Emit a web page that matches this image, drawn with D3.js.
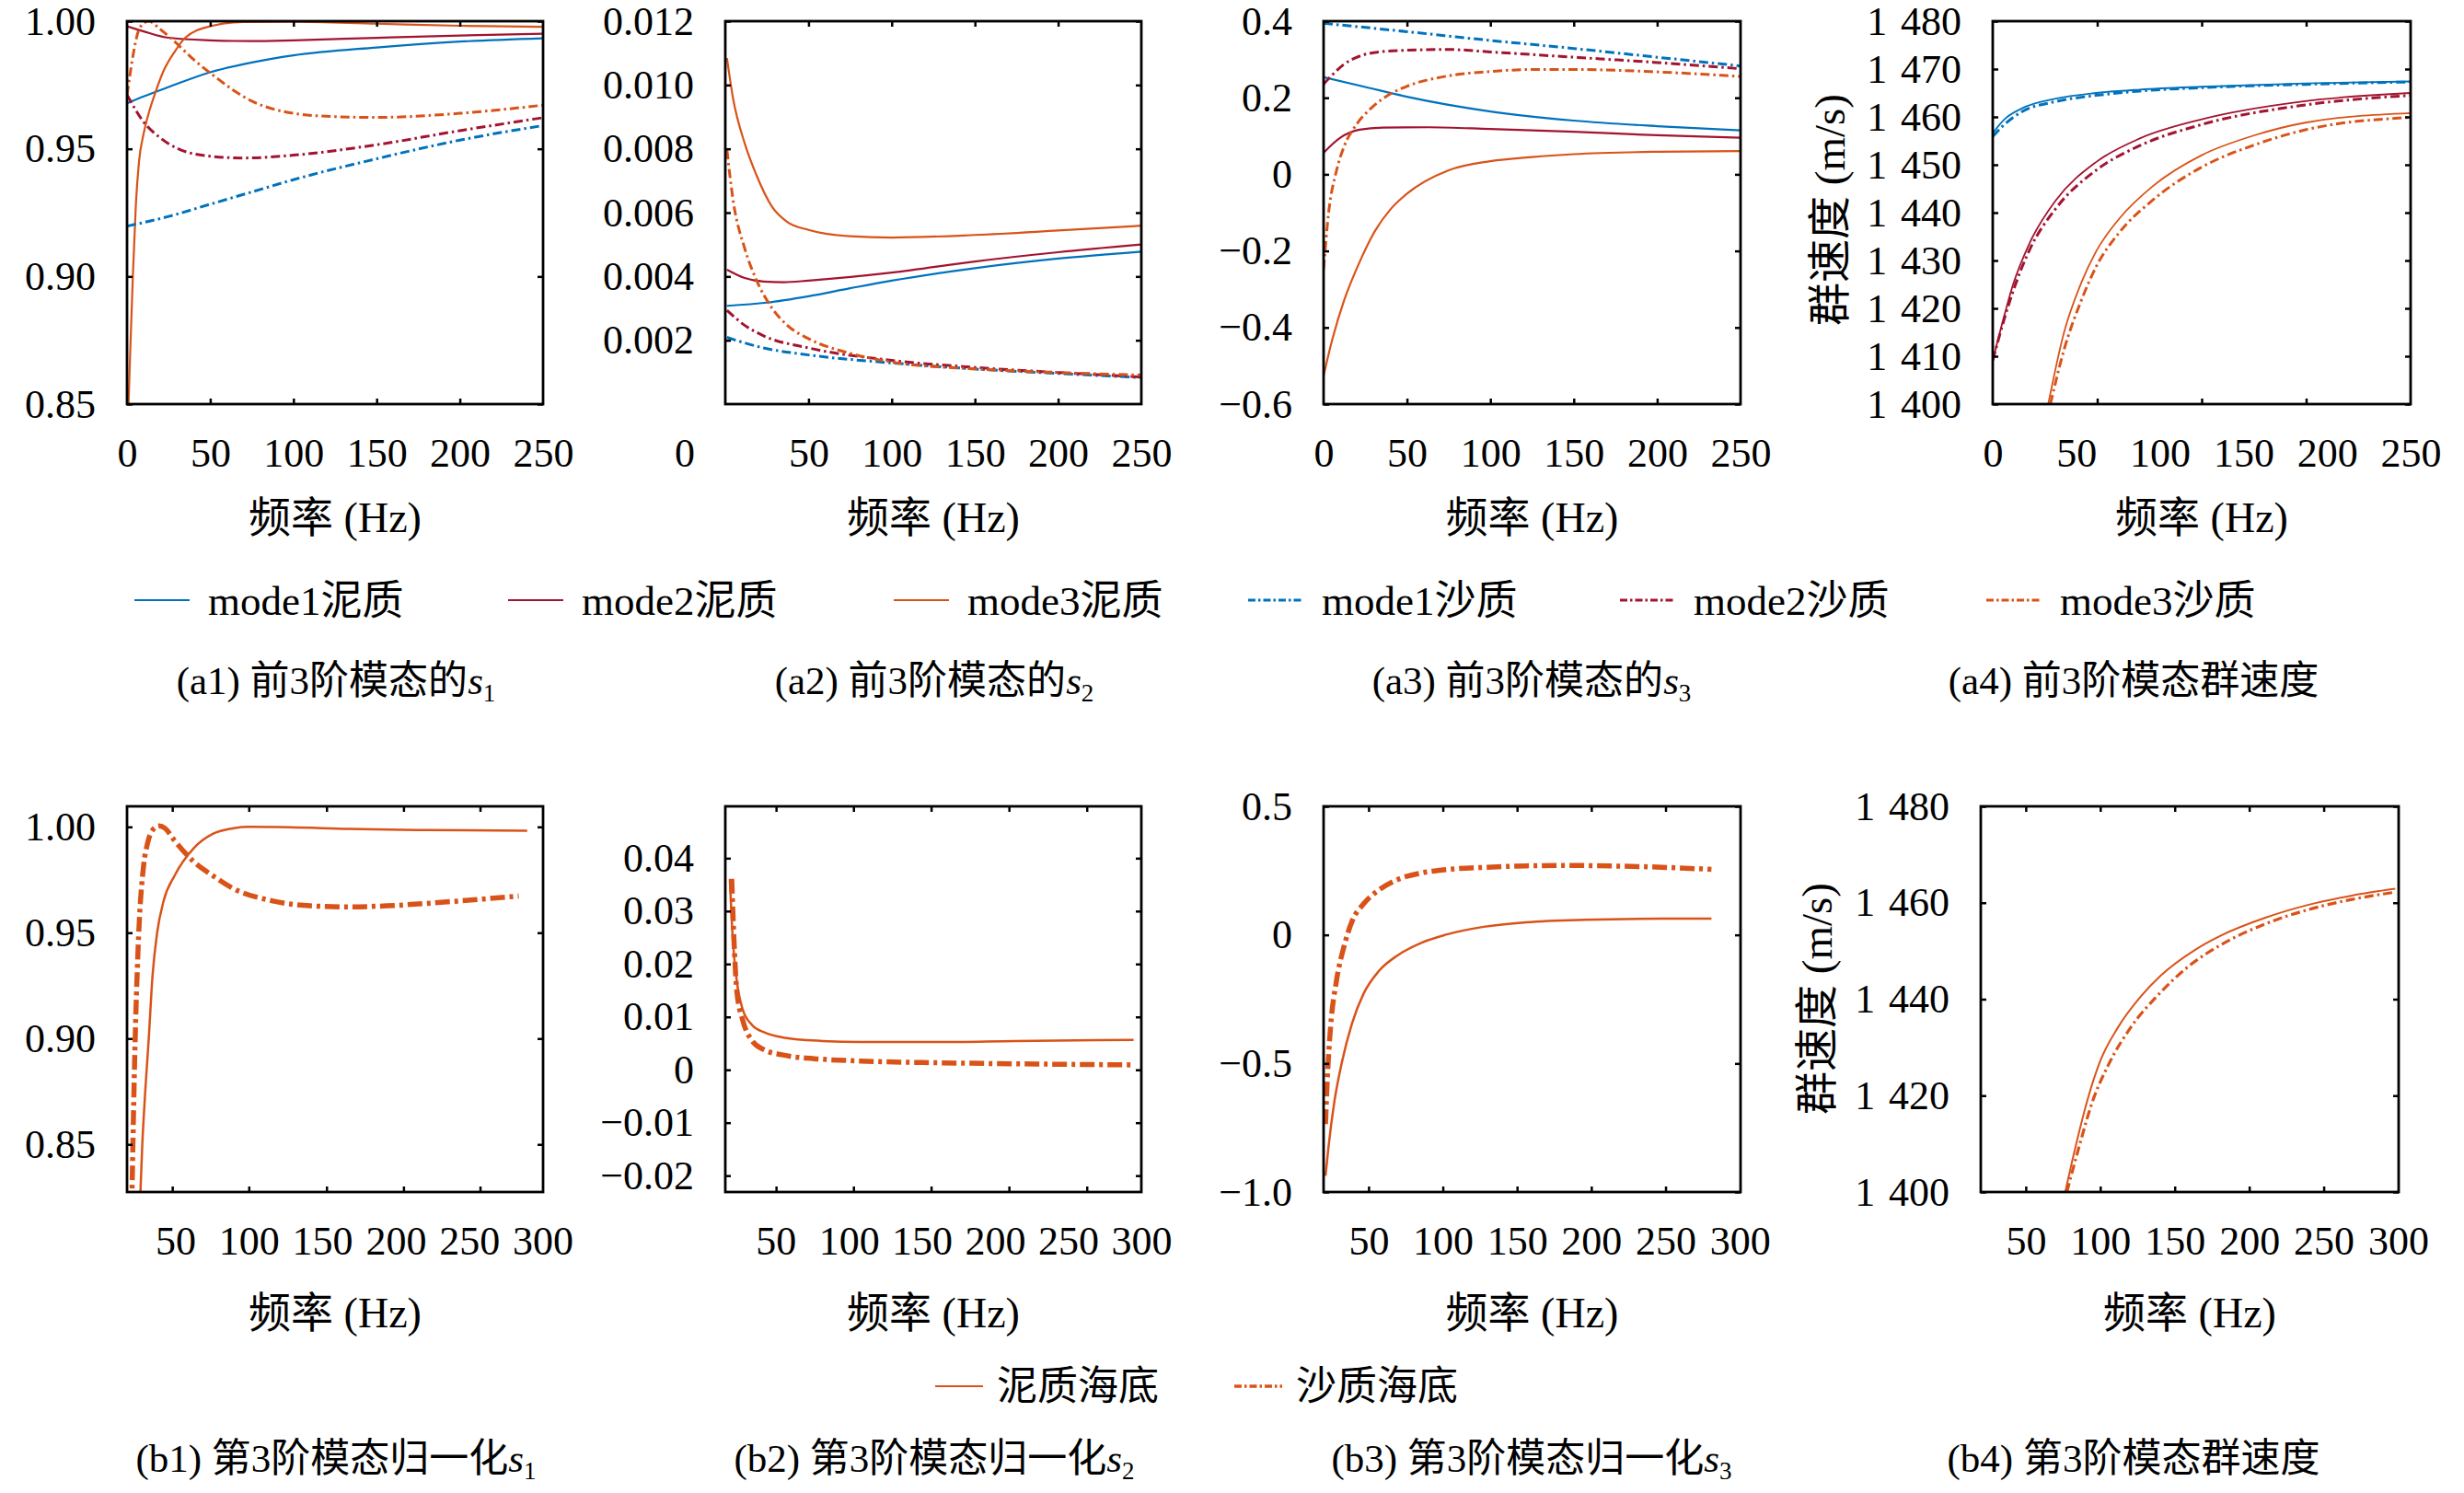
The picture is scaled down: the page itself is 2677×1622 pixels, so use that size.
<!DOCTYPE html>
<html><head><meta charset="utf-8">
<script src="https://cdn.jsdelivr.net/npm/d3@7"></script>
<style>
html,body{margin:0;padding:0;background:#fff;}
</style></head><body>
<svg id="c" width="2677" height="1622" xmlns="http://www.w3.org/2000/svg"></svg>
<script>
// ---------- colours ----------
const BLUE = '#0072BD', RED = '#A2142F', ORANGE = '#D95319';
const FONT = "'Liberation Serif','Noto Sans CJK SC',serif";

// ---------- tick labels ----------
const topXTicks = [0, 50, 100, 150, 200, 250];
const a2XTicks = [50, 100, 150, 200, 250];
const bottomXTicks = [50, 100, 150, 200, 250, 300];
const a1YTicks = [0.85, 0.90, 0.95, 1.00];
const a2YTicks = [0.002, 0.004, 0.006, 0.008, 0.010, 0.012];
const a3YTicks = [-0.6, -0.4, -0.2, 0, 0.2, 0.4];
const a4YTicks = [1400, 1410, 1420, 1430, 1440, 1450, 1460, 1470, 1480];
const b1YTicks = [0.85, 0.90, 0.95, 1.00];
const b2YTicks = [-0.02, -0.01, 0, 0.01, 0.02, 0.03, 0.04];
const b3YTicks = [-1.0, -0.5, 0, 0.5];
const b4YTicks = [1400, 1420, 1440, 1460, 1480];
const a4XMarks = [62.5, 125, 187.5];
const b1XMarks = [47.9, 100, 152.9, 205.3, 257.4];
const b2XMarks = [50.3, 103.2, 156.3, 209.5, 262.7];

// ---------- (a1) s1 ----------
const a1Mode1Mud = [[0,0.9678],[10,0.9705],[25,0.9742],[50,0.980],[75,0.9838],[100,0.9866],[150,0.9897],[200,0.992],[250,0.9933]];
const a1Mode2Mud = [[0,0.998],[10,0.996],[25,0.9935],[50,0.9925],[75,0.9922],[100,0.9925],[150,0.9935],[200,0.9944],[250,0.9951]];
const a1Mode3Mud = [[0.9,0.85],[1.9,0.87],[3.5,0.90],[5.3,0.928],[7.2,0.945],[10,0.956],[13.5,0.965],[17,0.972],[21.6,0.98],[28.6,0.988],[35,0.9935],[50,0.998],[70,0.9997],[100,0.9998],[150,0.999],[200,0.9982],[250,0.9978]];
const a1Mode1Sand = [[0,0.9197],[25,0.9235],[50,0.9283],[75,0.9331],[100,0.9379],[150,0.9461],[200,0.9534],[250,0.9591]];
const a1Mode2Sand = [[0,0.9712],[10,0.9605],[20,0.9543],[30,0.9502],[50,0.9471],[70,0.9464],[100,0.9475],[150,0.9516],[200,0.9571],[250,0.9622]];
const a1Mode3Sand = [[0,0.971],[2,0.980],[4,0.988],[7.7,0.9975],[13,1.000],[20,0.9968],[28.6,0.992],[40,0.985],[50,0.9797],[75,0.9687],[100,0.9639],[125,0.9626],[150,0.9623],[200,0.9639],[250,0.9671]];

// ---------- (a2) s2 ----------
const a2Mode1Mud = [[1,0.00308],[25,0.00318],[50,0.00338],[75,0.00363],[100,0.00387],[150,0.00426],[200,0.00456],[250,0.00478]];
const a2Mode2Mud = [[1,0.00421],[11.6,0.00395],[23,0.00384],[35,0.00382],[50,0.00387],[100,0.00412],[150,0.00447],[200,0.00476],[250,0.0050]];
const a2Mode3Mud = [[1,0.01084],[4.6,0.0096],[11.6,0.00818],[18.6,0.00719],[27.9,0.0062],[37.2,0.00571],[50,0.00546],[75,0.00526],[100,0.00522],[150,0.0053],[200,0.00544],[250,0.00559]];
const a2Mode1Sand = [[1,0.00209],[23,0.00176],[50,0.00154],[100,0.00129],[150,0.0011],[200,0.00096],[250,0.00083]];
const a2Mode2Sand = [[1,0.00294],[11.6,0.00247],[23,0.00214],[50,0.00176],[100,0.00137],[150,0.00115],[200,0.00099],[250,0.00085]];
const a2Mode3Sand = [[1,0.00796],[4.6,0.00642],[11.6,0.00489],[18.6,0.0039],[27.9,0.00302],[37.2,0.00247],[50,0.00205],[75,0.00159],[100,0.00132],[150,0.0011],[200,0.00099],[250,0.00091]];

// ---------- (a3) s3 ----------
const a3Mode1Mud = [[0,0.2537],[25,0.2282],[50,0.2026],[100,0.1642],[150,0.1404],[200,0.1258],[250,0.1148]];
const a3Mode2Mud = [[0,0.0563],[10,0.0956],[21.6,0.1166],[35.5,0.1221],[63,0.123],[100,0.1185],[150,0.1112],[200,0.102],[250,0.0956]];
const a3Mode3Mud = [[0,-0.526],[5.3,-0.43],[12.3,-0.3294],[21.6,-0.2289],[31,-0.1466],[40,-0.0918],[50,-0.0506],[75,0.0106],[100,0.0344],[125,0.0453],[150,0.0527],[200,0.059],[250,0.0609]];
const a3Mode1Sand = [[0,0.3945],[50,0.3726],[100,0.3497],[150,0.3287],[200,0.3059],[250,0.283]];
const a3Mode2Sand = [[0,0.2355],[5.3,0.26],[12.3,0.2876],[21.6,0.3086],[33,0.3196],[50,0.3241],[75,0.326],[100,0.3196],[150,0.3059],[200,0.2921],[250,0.2757]];
const a3Mode3Sand = [[0,-0.2472],[3,-0.1009],[7.7,0.0088],[12.3,0.0728],[19.3,0.1276],[28.6,0.1733],[40,0.2099],[50,0.23],[75,0.2574],[100,0.2684],[125,0.2739],[150,0.2739],[200,0.2675],[250,0.2556]];

// ---------- (a4) group velocity ----------
const a4Mode1Mud = [[0,1456.6],[7,1459.5],[17,1461.7],[37.6,1463.8],[62,1465.0],[88,1465.7],[125,1466.3],[187,1467.0],[250,1467.4]];
const a4Mode1Sand = [[0,1455.9],[7,1458.4],[17,1461],[37.6,1463.2],[62,1464.5],[88,1465.4],[125,1466.1],[187,1466.8],[250,1467.3]];
const a4Mode2Mud = [[0,1409.1],[7,1418.6],[12,1424.8],[22,1433.6],[37.6,1442.5],[62,1450.6],[88,1455.5],[125,1459.5],[187,1463.3],[250,1465.0]];
const a4Mode2Sand = [[0,1409.1],[7,1417.9],[12,1423.4],[22,1432.2],[37.6,1440.8],[62,1448.9],[88,1454.0],[125,1458.4],[187,1462.5],[250,1464.5]];
const a4Mode3Mud = [[33.2,1400],[42.6,1414.9],[52.8,1425.2],[62,1432.0],[75.6,1438.7],[96,1445.6],[125,1452.0],[157,1456.2],[187,1458.8],[250,1460.8]];
const a4Mode3Sand = [[34.5,1400],[42.6,1411.3],[52.8,1421.5],[62,1428.8],[75.6,1435.8],[96,1442.7],[125,1449.5],[157,1454.2],[187,1457.3],[250,1459.9]];

// ---------- (b1)-(b4) mode 3 ----------
const b1Mud = [[25.8,0.82],[27.5,0.85],[29.5,0.875],[31.8,0.899],[34.5,0.93],[37.6,0.95],[42,0.965],[49.5,0.977],[62.6,0.990],[75.8,0.9968],[89,0.9993],[100,1.0],[128,0.9998],[168,0.999],[220.5,0.9985],[289.5,0.9982]];
const b1Sand = [[20.3,0.82],[22.6,0.8985],[25,0.9485],[28.4,0.9818],[31,0.992],[34,0.998],[38.9,1.0005],[43,0.9993],[49.5,0.9935],[62.6,0.9835],[75.8,0.9768],[89,0.971],[115,0.9652],[141.6,0.9627],[168,0.9622],[194,0.9627],[220.5,0.9638],[247,0.9652],[283.7,0.9673]];
const b2Mud = [[18.7,0.036],[20.9,0.024],[23.5,0.0167],[27.5,0.0114],[34.1,0.0084],[42,0.0071],[55.3,0.0061],[81.7,0.00545],[108,0.00525],[161,0.00525],[214,0.00545],[294.7,0.00565]];
const b2Sand = [[20,0.0361],[21.4,0.0254],[23.5,0.0148],[27.5,0.0094],[34,0.00545],[42,0.0038],[55,0.0028],[81.7,0.002],[108,0.00166],[161,0.00133],[214,0.00113],[293,0.00093]];
const b3Mud = [[21,-0.937],[23,-0.825],[27,-0.647],[32,-0.496],[38.8,-0.345],[46.6,-0.229],[57,-0.14],[70,-0.078],[85.8,-0.03],[101.5,0.0],[127.6,0.0315],[156.3,0.0493],[195.5,0.0589],[247.6,0.063],[280.9,0.063]];
const b3Sand = [[21,-0.736],[22.3,-0.55],[24.4,-0.359],[28.3,-0.181],[33.5,-0.044],[38.8,0.052],[46.6,0.1205],[57,0.175],[70,0.2164],[85.8,0.241],[104,0.2548],[130,0.263],[156,0.2685],[182,0.27],[221.5,0.267],[247.6,0.263],[280.9,0.2548]];
const b4Mud = [[76.5,1400],[82.8,1408.6],[91.6,1419.3],[100.3,1427.4],[112,1434.2],[126.5,1440.3],[141,1445.0],[164,1450.3],[181.7,1453.3],[210.8,1456.9],[240,1459.6],[269,1461.5],[298,1462.9]];
const b4Sand = [[77.6,1400],[85.8,1409.4],[94.5,1418.5],[106,1426.7],[120.6,1434.2],[138,1440.6],[158,1446.5],[181.7,1451.4],[210.8,1455.6],[240,1458.6],[269,1460.7],[298,1462.2]];

// ---------- texts ----------
const topLegendLabels = ['mode1泥质','mode2泥质','mode3泥质','mode1沙质','mode2沙质','mode3沙质'];
const bottomLegendLabels = ['泥质海底','沙质海底'];
const xTitle = '频率 (Hz)';
const vTitle = '群速度 (m/s)';

// ---------- formatters ----------
const minus = v => (v < 0 ? '\u2212' : '');
const fmtFixed = n => d => d === 0 ? '0' : minus(d) + Math.abs(d).toFixed(n);
const fmtThousand = d => '1\u2004' + String(d - 1000).padStart(3, '0');

// ---------- panel definitions ----------
const SOLID = null, DD = 'dd';
const topStyle = {solid: 2.2, dd: 3, dash: '10,4,2.5,4'};
const a4Style = {solid: 1.8, dd: 3, dash: '10,4,2.5,4'};
const botStyle = {solid: 2.5, dd: 5.5, dash: '16,5,4,5'};
const b4Style = {solid: 2, dd: 3.2, dash: '10,4,2.5,4'};

const panels = [
  {box:[138,590,23,439], xd:[0,250], yd:[0.85,1.00], yt:a1YTicks, yf:fmtFixed(2), xl:topXTicks, xm:[50,100,150,200], st:topStyle, xt:123,
   s:[[a1Mode1Mud,BLUE,SOLID],[a1Mode2Mud,RED,SOLID],[a1Mode3Mud,ORANGE,SOLID],[a1Mode1Sand,BLUE,DD],[a1Mode2Sand,RED,DD],[a1Mode3Sand,ORANGE,DD]]},
  {box:[788,1240,23,439], xd:[0,250], yd:[0,0.012], yt:a2YTicks, yf:fmtFixed(3), xl:a2XTicks, xm:[50,100,150,200], st:topStyle, xt:123, origin:true,
   s:[[a2Mode1Mud,BLUE,SOLID],[a2Mode2Mud,RED,SOLID],[a2Mode3Mud,ORANGE,SOLID],[a2Mode1Sand,BLUE,DD],[a2Mode2Sand,RED,DD],[a2Mode3Sand,ORANGE,DD]]},
  {box:[1438,1891,23,439], xd:[0,250], yd:[-0.6,0.4], yt:a3YTicks, yf:fmtFixed(1), xl:topXTicks, xm:[50,100,150,200], st:topStyle, xt:123,
   s:[[a3Mode1Mud,BLUE,SOLID],[a3Mode2Mud,RED,SOLID],[a3Mode3Mud,ORANGE,SOLID],[a3Mode1Sand,BLUE,DD],[a3Mode2Sand,RED,DD],[a3Mode3Sand,ORANGE,DD]]},
  {box:[2165,2619,23,439], xd:[0,250], yd:[1400,1480], yt:a4YTicks, yf:fmtThousand, xl:topXTicks, xm:a4XMarks, st:a4Style, xt:123, vt:[1988,228],
   s:[[a4Mode1Mud,BLUE,SOLID],[a4Mode2Mud,RED,SOLID],[a4Mode3Mud,ORANGE,SOLID],[a4Mode1Sand,BLUE,DD],[a4Mode2Sand,RED,DD],[a4Mode3Sand,ORANGE,DD]]},
  {box:[138,590,876,1295], xd:[17.1,300.3], yd:[0.8275,1.0097], yt:b1YTicks, yf:fmtFixed(2), xl:bottomXTicks, xm:b1XMarks, st:botStyle, xt:131,
   s:[[b1Mud,ORANGE,SOLID],[b1Sand,ORANGE,DD]]},
  {box:[788,1240,876,1295], xd:[15.6,300], yd:[-0.0231,0.0498], yt:b2YTicks, yf:fmtFixed(2), xl:bottomXTicks, xm:b2XMarks, st:botStyle, xt:131,
   s:[[b2Mud,ORANGE,SOLID],[b2Sand,ORANGE,DD]]},
  {box:[1438,1891,876,1295], xd:[19.7,300.5], yd:[-1.0,0.5], yt:b3YTicks, yf:fmtFixed(1), xl:bottomXTicks, xm:[50,100,150,200,250], st:botStyle, xt:131,
   s:[[b3Mud,ORANGE,SOLID],[b3Sand,ORANGE,DD]]},
  {box:[2152,2606,876,1295], xd:[19.8,300.3], yd:[1400,1480], yt:b4YTicks, yf:fmtThousand, xl:bottomXTicks, xm:[50,100,150,200,250], st:b4Style, xt:131, vt:[1974,1085],
   s:[[b4Mud,ORANGE,SOLID],[b4Sand,ORANGE,DD]]}
];

const svg = d3.select('#c');
svg.append('rect').attr('width',2677).attr('height',1622).attr('fill','#fff');
const TICK = 6, FS = 44;

function styleAxis(g){
  g.attr('font-family', FONT).attr('font-size', FS);
  g.select('.domain').remove();
  g.selectAll('.tick line').attr('stroke','#000').attr('stroke-width',2.5);
  g.selectAll('.tick text').attr('fill','#000');
}

panels.forEach((p, i) => {
  const [x0, x1, y0, y1] = p.box;
  const x = d3.scaleLinear().domain(p.xd).range([x0, x1]);
  const y = d3.scaleLinear().domain(p.yd).range([y1, y0]);
  const g = svg.append('g');
  const cid = 'clip' + i;
  g.append('clipPath').attr('id', cid).append('rect')
    .attr('x', x0).attr('y', y0).attr('width', x1 - x0).attr('height', y1 - y0);

  // curves
  const line = d3.line().x(d => x(d[0])).y(d => y(d[1])).curve(d3.curveMonotoneX);
  const lg = g.append('g').attr('clip-path', `url(#${cid})`);
  p.s.forEach(([data, color, kind]) => {
    lg.append('path').attr('d', line(data)).attr('fill','none').attr('stroke', color)
      .attr('stroke-width', kind ? p.st.dd : p.st.solid)
      .attr('stroke-dasharray', kind ? p.st.dash : null)
      .attr('stroke-linejoin','round');
  });

  // y axis left (labels + inward ticks)
  g.append('g').attr('transform', `translate(${x0},0)`)
    .call(d3.axisLeft(y).tickValues(p.yt).tickFormat(p.yf).tickSizeInner(-TICK).tickSizeOuter(0).tickPadding(34))
    .call(styleAxis);
  // y axis right (ticks only)
  g.append('g').attr('transform', `translate(${x1},0)`)
    .call(d3.axisRight(y).tickValues(p.yt).tickFormat('').tickSizeInner(-TICK).tickSizeOuter(0))
    .call(styleAxis);
  // x tick marks bottom & top
  g.append('g').attr('transform', `translate(0,${y1})`)
    .call(d3.axisBottom(x).tickValues(p.xm).tickFormat('').tickSizeInner(-TICK).tickSizeOuter(0))
    .call(styleAxis);
  g.append('g').attr('transform', `translate(0,${y0})`)
    .call(d3.axisTop(x).tickValues(p.xm).tickFormat('').tickSizeInner(-TICK).tickSizeOuter(0))
    .call(styleAxis);
  // x tick labels
  const xl = g.append('g').attr('transform', `translate(0,${y1})`)
    .call(d3.axisBottom(x).tickValues(p.xl).tickFormat(d3.format('d')).tickSize(0).tickPadding(37))
    .call(styleAxis);
  xl.selectAll('.tick line').remove();
  if (p.origin) {
    g.append('text').attr('x', x(0) - 44).attr('y', y1 + 37).attr('dy','0.71em')
      .attr('text-anchor','middle').attr('font-family', FONT).attr('font-size', FS).text('0');
  }

  // frame
  g.append('rect').attr('x', x0).attr('y', y0).attr('width', x1 - x0).attr('height', y1 - y0)
    .attr('fill','none').attr('stroke','#000').attr('stroke-width',2.8);

  // x title
  g.append('text').attr('x', (x0 + x1) / 2).attr('y', y1 + p.xt).attr('dy','0.35em')
    .attr('text-anchor','middle').attr('font-family', FONT).attr('font-size', 46).text(xTitle);
  // vertical title
  if (p.vt) {
    g.append('text').attr('transform', `translate(${p.vt[0]},${p.vt[1]}) rotate(-90)`)
      .attr('dy','0.35em').attr('text-anchor','middle').attr('font-family', FONT).attr('font-size', 47).text(vTitle);
  }
});

// ---------- top legend ----------
const topLegendX = [146, 552, 971, 1356, 1760, 2158];
const topLegendStyle = [[BLUE,SOLID],[RED,SOLID],[ORANGE,SOLID],[BLUE,DD],[RED,DD],[ORANGE,DD]];
topLegendLabels.forEach((t, i) => {
  const lx = topLegendX[i], ly = 652;
  const [c, k] = topLegendStyle[i];
  svg.append('line').attr('x1', lx).attr('x2', lx + 60).attr('y1', ly).attr('y2', ly)
    .attr('stroke', c).attr('stroke-width', k ? 3 : 2).attr('stroke-dasharray', k ? '8,3,2.5,3' : null);
  svg.append('text').attr('x', lx + 80).attr('y', ly).attr('dy','0.35em')
    .attr('font-family', FONT).attr('font-size', 45).text(t);
});

// ---------- bottom legend ----------
const bottomLegendX = [1016, 1341];
bottomLegendLabels.forEach((t, i) => {
  const lx = bottomLegendX[i], ly = 1506;
  svg.append('line').attr('x1', lx).attr('x2', lx + 52).attr('y1', ly).attr('y2', ly)
    .attr('stroke', ORANGE).attr('stroke-width', i ? 3.5 : 2.2).attr('stroke-dasharray', i ? '8,3,2.5,3' : null);
  svg.append('text').attr('x', lx + 67).attr('y', ly).attr('dy','0.35em')
    .attr('font-family', FONT).attr('font-size', 44).text(t);
});

// ---------- captions ----------
const captionCenters = [365, 1015, 1664, 2318];
const captionsTop = [['(a1) 前3阶模态的','1'],['(a2) 前3阶模态的','2'],['(a3) 前3阶模态的','3'],['(a4) 前3阶模态群速度',null]];
const captionsBottom = [['(b1) 第3阶模态归一化','1'],['(b2) 第3阶模态归一化','2'],['(b3) 第3阶模态归一化','3'],['(b4) 第3阶模态群速度',null]];
function caption(list, cy){
  list.forEach(([t, sub], i) => {
    const tx = svg.append('text').attr('x', captionCenters[i]).attr('y', cy).attr('dy','0.35em')
      .attr('text-anchor','middle').attr('font-family', FONT).attr('font-size', 43);
    tx.append('tspan').text(t);
    if (sub) {
      tx.append('tspan').attr('font-style','italic').text('s');
      tx.append('tspan').attr('font-size', 27).attr('dy', 8).text(sub);
    }
  });
}
caption(captionsTop, 739);
caption(captionsBottom, 1584);
</script></body></html>
